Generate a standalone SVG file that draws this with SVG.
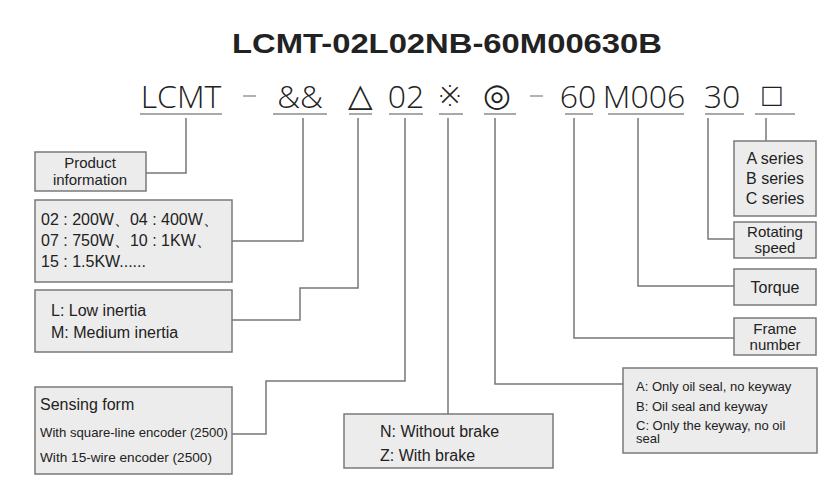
<svg xmlns="http://www.w3.org/2000/svg" width="830" height="484" viewBox="0 0 830 484">
<style>
.b{fill:#ececec;stroke:#7a7a7a;stroke-width:1.5}
.t{font-family:"Liberation Sans",Arial,sans-serif;fill:#222}
.s{font-size:16px}
.m{font-size:15px}
.c{font-family:"Open Sans","DejaVu Sans",sans-serif;font-size:32px;fill:#222;font-weight:300}
.u{stroke:#555;stroke-width:1.2}
.l{fill:none;stroke:#777;stroke-width:1.5}
</style>
<rect width="830" height="484" fill="#fff"/>
<text class="t" x="232" y="53" font-size="28" font-weight="bold" textLength="430" lengthAdjust="spacingAndGlyphs">LCMT-02L02NB-60M00630B</text>
<g id="code">
<text class="c" x="181" y="108" text-anchor="middle">LCMT</text>
<path d="M243 96H256M530 96H543" stroke="#999" stroke-width="1.5"/>
<text class="c" x="300" y="108" text-anchor="middle">&amp;&amp;</text>
<text class="c" x="360" y="106" text-anchor="middle" font-size="22">△</text>
<text class="c" x="406" y="108" text-anchor="middle">02</text>
<text class="c" x="450" y="106" text-anchor="middle" font-size="24">※</text>
<text class="c" x="497" y="106" text-anchor="middle" font-size="24">◎</text>
<text class="c" x="578" y="108" text-anchor="middle">60</text>
<text class="c" x="644" y="108" text-anchor="middle">M006</text>
<text class="c" x="722" y="108" text-anchor="middle">30</text>
<text class="c" x="772" y="106" text-anchor="middle" font-size="24" fill="#666">□</text>
<path class="u" d="M140 114H222M273 114H327M349 114H372M389 114H423M439 114H463M484 114H516M565 114H593M608 114H684M705 114H744M755 114H795"/>
</g>
<g id="connectors">
<path class="l" d="M186 118V173H146"/>
<path class="l" d="M303 118V241H232"/>
<path class="l" d="M358 118V288H300V320H232"/>
<path class="l" d="M405 118V381H266V434H232"/>
<path class="l" d="M448 118V414"/>
<path class="l" d="M495 118V384H623"/>
<path class="l" d="M574 118V338H734"/>
<path class="l" d="M638 118V286H734"/>
<path class="l" d="M708 118V239H734"/>
<path class="l" d="M766 118V141"/>
</g>
<g id="product"><rect class="b" x="35" y="152" width="111" height="39"/>
<text class="t m" x="90" y="168" text-anchor="middle">Product</text><text class="t m" x="90" y="185" text-anchor="middle">information</text></g>
<g id="power"><rect class="b" x="35" y="200" width="197" height="82"/>
<text class="t s" x="41" y="225">02 : 200W、04 : 400W、</text>
<text class="t s" x="41" y="246">07 : 750W、10 : 1KW、</text>
<text class="t s" x="41" y="267">15 : 1.5KW......</text></g>
<g id="inertia"><rect class="b" x="35" y="290" width="197" height="62"/>
<text class="t s" x="51" y="316">L: Low inertia</text><text class="t s" x="51" y="338">M: Medium inertia</text></g>
<g id="sensing"><rect class="b" x="35" y="387" width="197" height="87"/>
<text class="t s" x="40" y="410">Sensing form</text>
<text class="t" x="40" y="437" font-size="13" textLength="188" lengthAdjust="spacingAndGlyphs">With square-line encoder (2500)</text>
<text class="t" x="40" y="462" font-size="13" textLength="172" lengthAdjust="spacingAndGlyphs">With 15-wire encoder (2500)</text></g>
<g id="brake"><rect class="b" x="344" y="414" width="209" height="54"/>
<text class="t s" x="380" y="437">N:  Without brake</text><text class="t s" x="380" y="461">Z:  With brake</text></g>
<g id="shaft"><rect class="b" x="623" y="368" width="194" height="85"/>
<text class="t" x="636" y="391" font-size="13">A: Only oil seal, no keyway</text>
<text class="t" x="636" y="411" font-size="13">B: Oil seal and keyway</text>
<text class="t" x="636" y="430" font-size="13">C: Only the keyway, no oil</text>
<text class="t" x="636" y="443" font-size="13">seal</text></g>
<g id="series"><rect class="b" x="734" y="141" width="82" height="75"/>
<text class="t s" x="775" y="164" text-anchor="middle">A series</text><text class="t s" x="775" y="184" text-anchor="middle">B series</text><text class="t s" x="775" y="204" text-anchor="middle">C series</text></g>
<g id="speed"><rect class="b" x="734" y="222" width="82" height="36"/>
<text class="t m" x="775" y="237" text-anchor="middle">Rotating</text><text class="t m" x="775" y="253" text-anchor="middle">speed</text></g>
<g id="torque"><rect class="b" x="734" y="269" width="82" height="36"/>
<text class="t s" x="775" y="293" text-anchor="middle">Torque</text></g>
<g id="frame"><rect class="b" x="734" y="318" width="82" height="37"/>
<text class="t m" x="775" y="334" text-anchor="middle">Frame</text><text class="t m" x="775" y="350" text-anchor="middle">number</text></g>
</svg>
